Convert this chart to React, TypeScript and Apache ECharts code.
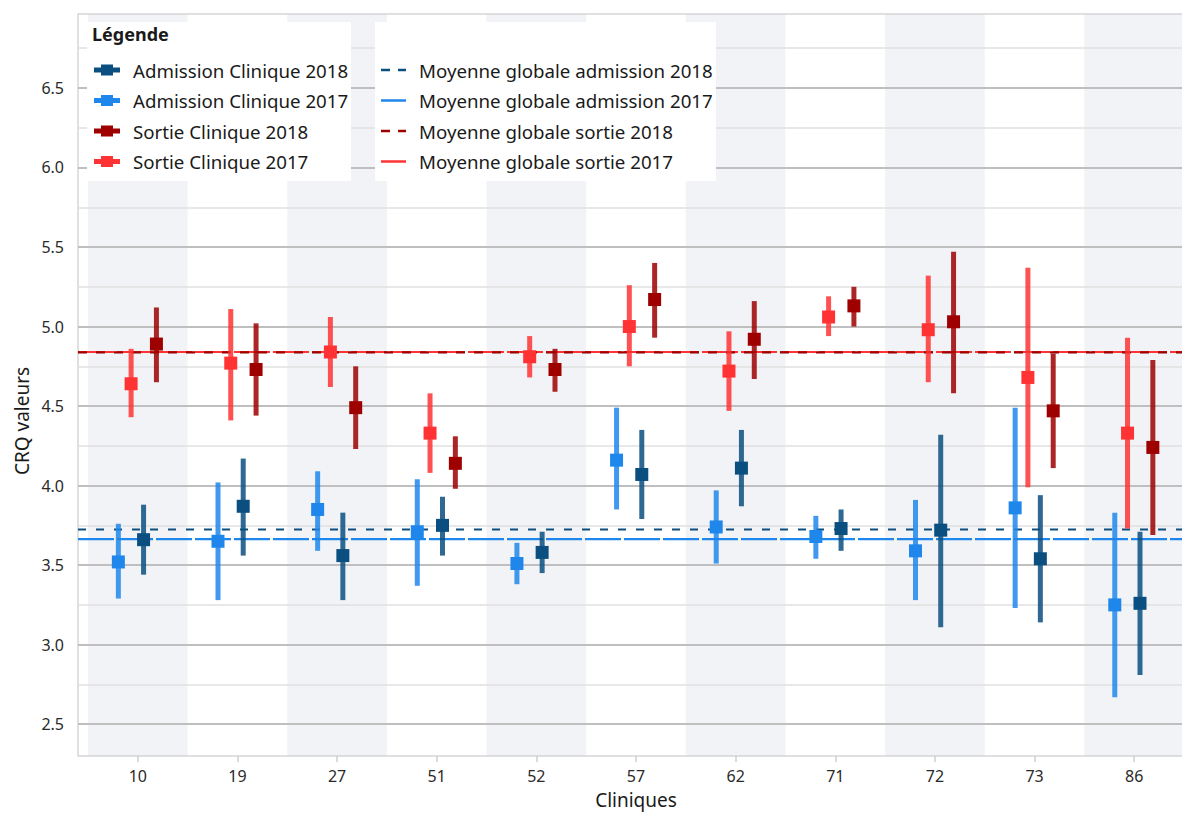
import React, { useEffect, useRef } from "react";
import * as echarts from "echarts";

const FONT = "'Noto Sans', 'Open Sans', sans-serif";

const clinics = ["10", "19", "27", "51", "52", "57", "62", "71", "72", "73", "86"];

// Each row: [moyenne, borne basse, borne haute]
const admission2018 = [
  [3.66, 3.44, 3.88],
  [3.87, 3.56, 4.17],
  [3.56, 3.28, 3.83],
  [3.75, 3.56, 3.93],
  [3.58, 3.45, 3.71],
  [4.07, 3.79, 4.35],
  [4.11, 3.87, 4.35],
  [3.73, 3.59, 3.85],
  [3.72, 3.11, 4.32],
  [3.54, 3.14, 3.94],
  [3.26, 2.81, 3.71],
];
const admission2017 = [
  [3.52, 3.29, 3.76],
  [3.65, 3.28, 4.02],
  [3.85, 3.59, 4.09],
  [3.71, 3.37, 4.04],
  [3.51, 3.38, 3.64],
  [4.16, 3.85, 4.49],
  [3.74, 3.51, 3.97],
  [3.68, 3.54, 3.81],
  [3.59, 3.28, 3.91],
  [3.86, 3.23, 4.49],
  [3.25, 2.67, 3.83],
];
const sortie2018 = [
  [4.89, 4.65, 5.12],
  [4.73, 4.44, 5.02],
  [4.49, 4.23, 4.75],
  [4.14, 3.98, 4.31],
  [4.73, 4.59, 4.86],
  [5.17, 4.93, 5.4],
  [4.92, 4.67, 5.16],
  [5.13, 5.0, 5.25],
  [5.03, 4.58, 5.47],
  [4.47, 4.11, 4.83],
  [4.24, 3.69, 4.79],
];
const sortie2017 = [
  [4.64, 4.43, 4.86],
  [4.77, 4.41, 5.11],
  [4.84, 4.62, 5.06],
  [4.33, 4.08, 4.58],
  [4.81, 4.68, 4.94],
  [5.0, 4.75, 5.26],
  [4.72, 4.47, 4.97],
  [5.06, 4.94, 5.19],
  [4.98, 4.65, 5.32],
  [4.68, 3.99, 5.37],
  [4.33, 3.73, 4.93],
];

const meanAdmission2018 = 3.724;
const meanAdmission2017 = 3.663;
const meanSortie2018 = 4.838;
const meanSortie2017 = 4.84;

const yMajorTicks = [2.5, 3.0, 3.5, 4.0, 4.5, 5.0, 5.5, 6.0, 6.5];
const yMinorTicks = [2.75, 3.25, 3.75, 4.25, 4.75, 5.25, 5.75, 6.25, 6.75];

const X_MIN = -0.6;
const X_MAX = 10.6;
const Y_MIN = 2.3;
const Y_MAX = 6.965;

const C_ADM18 = "#0a4f80";
const C_ADM17 = "#1f87eb";
const C_SOR18 = "#9e0000";
const C_SOR17 = "#ff3333";

const crossIcon = "path://M0,3H7V0H19V3H26V8H19V11H7V8H0Z";
const dashIcon = "path://M0,0H9V2.5H0Z M17,0H25V2.5H17Z";
const solidIcon = "path://M0,0H25V2.5H0Z";

function errorBarSeries(name: string, rows: number[][], color: string, offset: number) {
  return {
    type: "custom",
    name,
    z: 10,
    data: rows.map((r, i) => [i, r[0], r[1], r[2]]),
    encode: { x: 0, y: [1, 2, 3] },
    renderItem: (_params: any, api: any) => {
      const x = api.value(0) + offset;
      const m = api.coord([x, api.value(1)]);
      const lo = api.coord([x, api.value(2)]);
      const hi = api.coord([x, api.value(3)]);
      return {
        type: "group",
        children: [
          {
            type: "rect",
            shape: { x: m[0] - 2.5, y: hi[1], width: 5, height: lo[1] - hi[1] },
            style: { fill: color, opacity: 0.85 },
          },
          {
            type: "rect",
            shape: { x: m[0] - 6.5, y: m[1] - 6.5, width: 13, height: 13 },
            style: { fill: color },
          },
        ],
      };
    },
  };
}

function meanSeries(name: string, value: number, color: string, dash: any) {
  return {
    type: "line",
    name,
    z: 6,
    showSymbol: false,
    symbol: "none",
    silent: true,
    data: [
      [X_MIN, value],
      [X_MAX, value],
    ],
    lineStyle: { color, width: 2.2, type: dash },
  };
}

export default function App() {
  const ref = useRef<HTMLDivElement>(null);

  useEffect(() => {
    document.body.style.margin = "0";
    document.body.style.overflow = "hidden";
    if (!ref.current) return;
    const chart = echarts.init(ref.current, undefined, { renderer: "svg" });

    const bands = clinics
      .map((_, i) => i)
      .filter((i) => i % 2 === 0)
      .map((i) => [{ xAxis: i - 0.5 }, { xAxis: i + 0.5 }]);

    const gridLines = [
      ...yMinorTicks.map((v) => ({
        yAxis: v,
        lineStyle: { color: "#e0e0e0", width: 1.5, type: "solid" },
      })),
      ...yMajorTicks.map((v) => ({
        yAxis: v,
        lineStyle: { color: "#bfbfbf", width: 2, type: "solid" },
      })),
    ];

    const legendText = {
      fontSize: 18.7,
      lineHeight: 20,
      color: "#1a1a1a",
      fontFamily: FONT,
      padding: [0, 0, 0, 8],
    };

    chart.setOption({
      animation: false,
      backgroundColor: "#ffffff",
      textStyle: { fontFamily: FONT },
      grid: {
        left: 78,
        top: 14,
        bottom: 59,
        right: 0,
        show: true,
        borderColor: "#d6d6d6",
        borderWidth: 1.5,
        backgroundColor: "transparent",
      },
      xAxis: {
        type: "value",
        min: X_MIN,
        max: X_MAX,
        splitLine: { show: false },
        axisLine: { show: false },
        axisTick: {
          show: true,
          length: 6,
          customValues: clinics.map((_, i) => i),
          lineStyle: { color: "#cfcfcf", width: 1.5 },
        },
        axisLabel: {
          customValues: clinics.map((_, i) => i),
          formatter: (v: number) => clinics[Math.round(v)] ?? "",
          fontSize: 16,
          color: "#2a2a2a",
          margin: 12,
          fontFamily: FONT,
        },
        name: "Cliniques",
        nameLocation: "middle",
        nameGap: 34,
        nameTextStyle: { fontSize: 19, color: "#1a1a1a", fontFamily: FONT },
      },
      yAxis: {
        type: "value",
        min: Y_MIN,
        max: Y_MAX,
        splitLine: { show: false },
        axisLine: { show: false },
        axisTick: {
          show: true,
          length: 8,
          customValues: yMajorTicks,
          lineStyle: { color: "#cfcfcf", width: 1.5 },
        },
        axisLabel: {
          customValues: yMajorTicks,
          formatter: (v: number) => v.toFixed(1),
          fontSize: 16,
          color: "#2a2a2a",
          margin: 14,
          fontFamily: FONT,
        },
      },
      legend: [
        {
          orient: "vertical",
          left: 94,
          top: 60,
          padding: 0,
          itemWidth: 26,
          itemHeight: 11,
          itemGap: 10.5,
          selectedMode: false,
          z: 30,
          textStyle: legendText,
          data: [
            { name: "Admission Clinique 2018", icon: crossIcon, itemStyle: { color: C_ADM18 } },
            { name: "Admission Clinique 2017", icon: crossIcon, itemStyle: { color: C_ADM17 } },
            { name: "Sortie Clinique 2018", icon: crossIcon, itemStyle: { color: C_SOR18 } },
            { name: "Sortie Clinique 2017", icon: crossIcon, itemStyle: { color: C_SOR17 } },
          ],
        },
        {
          orient: "vertical",
          left: 381,
          top: 60,
          padding: 0,
          itemWidth: 25,
          itemHeight: 2.5,
          itemGap: 10.5,
          selectedMode: false,
          z: 30,
          textStyle: legendText,
          data: [
            { name: "Moyenne globale admission 2018", icon: dashIcon, itemStyle: { color: C_ADM18, borderWidth: 0 } },
            { name: "Moyenne globale admission 2017", icon: solidIcon, itemStyle: { color: C_ADM17, borderWidth: 0 } },
            { name: "Moyenne globale sortie 2018", icon: dashIcon, itemStyle: { color: C_SOR18, borderWidth: 0 } },
            { name: "Moyenne globale sortie 2017", icon: solidIcon, itemStyle: { color: C_SOR17, borderWidth: 0 } },
          ],
        },
      ],
      graphic: [
        {
          type: "rect",
          z: 25,
          silent: true,
          shape: { x: 87, y: 22, width: 264, height: 159 },
          style: { fill: "#ffffff" },
        },
        {
          type: "rect",
          z: 25,
          silent: true,
          shape: { x: 375, y: 22, width: 341, height: 159 },
          style: { fill: "#ffffff" },
        },
        {
          type: "text",
          z: 26,
          silent: true,
          x: 92,
          y: 34,
          style: {
            text: "Légende",
            fontSize: 18,
            fontWeight: "bold",
            fill: "#1a1a1a",
            fontFamily: FONT,
            verticalAlign: "middle",
          },
        },
        {
          type: "text",
          z: 26,
          silent: true,
          x: 22,
          y: 421,
          rotation: Math.PI / 2,
          style: {
            text: "CRQ valeurs",
            fontSize: 19,
            fill: "#1a1a1a",
            fontFamily: FONT,
            align: "center",
            verticalAlign: "middle",
          },
        },
      ],
      series: [
        {
          type: "line",
          name: "bandes",
          data: [],
          silent: true,
          markArea: {
            silent: true,
            itemStyle: { color: "rgba(200, 206, 216, 0.24)" },
            data: bands,
          },
          markLine: {
            silent: true,
            z: 1,
            symbol: "none",
            label: { show: false },
            lineStyle: { type: "solid" },
            data: gridLines,
          },
        },
        meanSeries("Moyenne globale admission 2017", meanAdmission2017, C_ADM17, [36, 3]),
        meanSeries("Moyenne globale admission 2018", meanAdmission2018, C_ADM18, [8, 10]),
        meanSeries("Moyenne globale sortie 2017", meanSortie2017, C_SOR17, [36, 3]),
        meanSeries("Moyenne globale sortie 2018", meanSortie2018, C_SOR18, [9, 9]),
        errorBarSeries("Admission Clinique 2017", admission2017, C_ADM17, -0.195),
        errorBarSeries("Sortie Clinique 2017", sortie2017, C_SOR17, -0.067),
        errorBarSeries("Admission Clinique 2018", admission2018, C_ADM18, 0.058),
        errorBarSeries("Sortie Clinique 2018", sortie2018, C_SOR18, 0.187),
      ],
    });

    return () => chart.dispose();
  }, []);

  return <div ref={ref} style={{ width: 1194, height: 815 }} />;
}
